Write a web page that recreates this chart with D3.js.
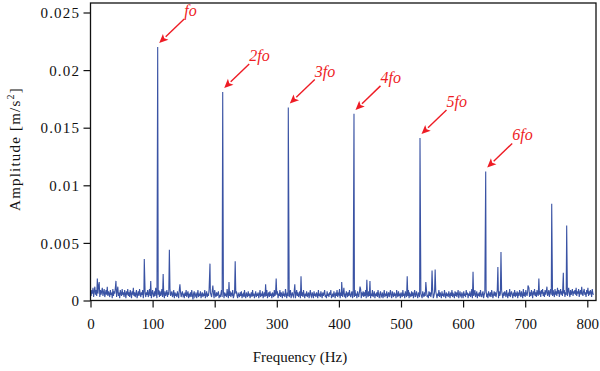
<!DOCTYPE html>
<html>
<head>
<meta charset="utf-8">
<script src="https://cdn.jsdelivr.net/npm/d3@7"></script>
<style>
  html, body { margin: 0; padding: 0; background: #fff; }
  svg { display: block; }
</style>
</head>
<body>
<svg id="chart" width="600" height="371"></svg>
<script>
// ---------------- DATA ----------------
// Noise floor, sampled every 1 Hz from 0 Hz, amplitude in units of 1e-4 m/s^2
const noiseStepHz = 1;
const noiseFloorE4 = [
  7,4,9,6,11,3,8,12,5,9,4,10,6,13,7,3,9,5,8,11,4,7,10,3,6,9,5,12,4,8,
  6,3,9,5,7,2,10,4,8,6,11,5,3,8,12,4,7,2,9,6,4,10,5,7,3,9,6,2,8,5,
  10,4,7,3,9,6,2,8,5,11,4,7,3,6,9,2,5,8,4,10,6,3,7,5,9,2,8,4,6,3,
  7,5,9,3,6,10,4,8,2,6,9,5,3,8,4,11,6,2,7,5,9,3,8,4,6,10,3,7,5,2,
  8,4,6,9,3,7,5,2,10,4,6,8,3,5,9,2,7,4,6,3,8,5,2,9,4,7,3,6,8,4,
  5,2,7,4,9,3,6,8,2,5,4,7,3,9,5,1,6,8,3,4,7,2,5,9,3,6,4,8,2,5,
  7,3,6,4,9,2,5,8,3,6,4,10,2,7,5,3,8,4,6,2,9,5,3,7,4,6,8,2,5,3,
  6,9,3,5,8,2,7,4,6,3,10,5,2,7,4,8,3,6,5,9,2,4,7,3,6,8,4,2,6,5,
  3,7,4,8,2,5,6,3,9,4,2,7,5,3,8,4,6,2,5,7,3,9,4,6,2,5,8,3,6,4,
  7,2,5,9,3,6,4,8,2,5,7,3,6,4,9,2,5,7,3,8,4,6,2,7,5,3,9,4,6,3,
  5,8,2,6,4,9,3,7,5,2,8,4,6,3,10,5,2,7,4,8,3,6,9,2,5,7,4,3,8,5,
  2,6,9,4,7,3,5,8,2,6,4,7,3,9,5,2,6,4,8,3,5,7,2,6,9,4,3,7,5,2,
  8,4,6,3,7,5,2,9,4,6,3,8,5,2,7,4,6,9,3,5,2,8,4,6,3,7,5,9,2,4,
  6,3,8,5,2,7,4,9,3,6,5,10,2,7,4,8,3,6,11,4,5,2,8,6,3,7,4,9,5,3,
  6,8,2,5,7,3,9,4,6,2,8,5,3,7,4,10,2,6,5,8,3,7,4,9,2,6,5,3,8,4,
  7,2,6,4,9,3,5,8,2,6,4,7,3,9,5,2,6,8,3,4,7,2,5,9,3,6,4,8,2,5,
  7,3,6,9,4,2,8,5,3,7,4,6,2,9,5,3,8,4,6,2,7,5,3,9,4,6,2,8,5,3,
  7,4,9,2,6,5,3,8,4,7,2,6,9,3,5,8,4,2,7,5,3,9,6,4,2,8,5,3,7,4,
  6,9,3,5,2,8,4,7,3,6,5,9,2,4,7,3,8,5,2,6,4,9,3,7,5,2,8,4,6,3,
  9,5,2,7,4,6,3,8,5,2,7,4,9,3,6,5,2,8,4,7,3,6,9,2,5,8,4,3,7,5,
  2,8,4,6,3,9,5,7,2,6,4,8,3,5,10,2,7,4,6,9,3,5,8,2,6,4,7,3,9,5,
  3,6,8,2,5,7,4,9,3,6,2,8,5,4,7,3,9,6,2,5,8,4,7,3,6,9,5,2,8,4,
  6,3,9,5,2,7,4,8,6,3,9,5,2,7,4,10,3,6,8,5,2,7,4,9,3,6,5,8,2,7,
  4,9,6,3,8,5,2,10,4,7,3,9,6,4,8,5,11,3,7,4,9,6,2,8,5,10,4,7,3,9,
  6,4,11,5,8,3,9,6,10,4,7,3,9,5,8,12,4,6,9,3,7,10,5,8,4,9,6,3,10,5,
  8,4,11,6,9,3,7,10,5,8,4,12,6,9,3,7,5,10,4,8,11,6,3,9,5,7,10,4,8,6,
  9,5,11,4,8,6,10,3,7,9,5,12,6,4,8,10,5,7,3,9,6,11,4,8,5,9,7,3,10,6,
  5
];

// Harmonic peaks (Hz, m/s^2) and their labels
const harmonicLabels = ["fo", "2fo", "3fo", "4fo", "5fo", "6fo"];
const harmonicFreqs  = [108.2, 212.9, 318.5, 424.3, 530.6, 636.4];
const harmonicAmps   = [0.0220, 0.0181, 0.01675, 0.0162, 0.0141, 0.0112];

// Other spectral peaks (Hz, m/s^2)
const sidePeakFreqs = [11, 14, 41, 86.6, 97, 117, 127, 144, 192.4, 197, 223, 233,
                       282, 299, 329, 339, 404.5, 434, 445, 450, 510, 540, 550, 555,
                       616, 656, 661, 704.5, 722, 742.7, 761.4, 766.8];
const sidePeakAmps  = [0.0019, 0.0016, 0.0017, 0.0036, 0.0017, 0.0023, 0.0044, 0.0014, 0.0032, 0.0013, 0.0016, 0.0034,
                       0.0014, 0.0019, 0.0014, 0.0021, 0.0016, 0.0012, 0.0018, 0.0017, 0.0021, 0.0016, 0.0026, 0.0027,
                       0.0025, 0.0029, 0.0042, 0.0013, 0.0019, 0.0084, 0.0024, 0.0065];

const xTicks = [0, 100, 200, 300, 400, 500, 600, 700, 800];
const yTicks = [0, 0.005, 0.01, 0.015, 0.02, 0.025];
const yTickLabels = ["0", "0.005", "0.01", "0.015", "0.02", "0.025"];

// ---------------- BUILD SERIES ----------------
const spectrum = noiseFloorE4.map((v, i) => ({ f: i * noiseStepHz, a: v / 1e4 }));
function setPeak(f, a) {
  const i = Math.round(f / noiseStepHz);
  if (i >= 0 && i < spectrum.length) spectrum[i] = { f: f, a: a };
}
sidePeakFreqs.forEach((f, i) => setPeak(f, sidePeakAmps[i]));
harmonicFreqs.forEach((f, i) => setPeak(f, harmonicAmps[i]));

// ---------------- LAYOUT ----------------
const svg = d3.select("#chart");
const font = "'Liberation Serif', 'DejaVu Serif', serif";
const x = d3.scaleLinear().domain([0, 800]).range([90.5, 587.3]);
const y = d3.scaleLinear().domain([0, 0.025]).range([300.5, 12.5]);
const plotLeft = x(0), plotRight = 596, plotTop = 3, plotBottom = y(0);

const blue = "#3a53a4";
const red = "#ee1c25";

// spectrum line
svg.append("path")
  .datum(spectrum)
  .attr("fill", "none")
  .attr("stroke", blue)
  .attr("stroke-width", 1.1)
  .attr("stroke-linejoin", "miter")
  .attr("d", d3.line().x(d => x(d.f)).y(d => y(d.a)));

// frame
svg.append("rect")
  .attr("x", plotLeft).attr("y", plotTop)
  .attr("width", plotRight - plotLeft).attr("height", plotBottom - plotTop)
  .attr("fill", "none").attr("stroke", "#111").attr("stroke-width", 1.3);

// axes
const xAxis = d3.axisBottom(x).tickValues(xTicks).tickSize(7).tickSizeOuter(0).tickFormat(d3.format("d"));
const gx = svg.append("g").attr("transform", `translate(0,${plotBottom})`).call(xAxis);
gx.select(".domain").remove();
gx.selectAll(".tick line").attr("stroke", "#111").attr("stroke-width", 1.2);
gx.selectAll(".tick text").attr("font-family", font).attr("font-size", 15)
  .attr("fill", "#111").attr("dy", "0").attr("y", 28);

const yAxis = d3.axisLeft(y).tickValues(yTicks).tickSize(7).tickSizeOuter(0)
  .tickFormat((d, i) => yTickLabels[i]);
const gy = svg.append("g").attr("transform", `translate(${plotLeft},0)`).call(yAxis);
gy.select(".domain").remove();
gy.selectAll(".tick line").attr("stroke", "#111").attr("stroke-width", 1.2);
gy.selectAll(".tick text").attr("font-family", font).attr("font-size", 15)
  .attr("letter-spacing", "1.2px")
  .attr("fill", "#111").attr("x", -10.3).attr("dy", "0.34em");

// axis titles
svg.append("text")
  .attr("x", 300).attr("y", 362)
  .attr("text-anchor", "middle")
  .attr("font-family", font).attr("font-size", 15).attr("fill", "#111")
  .text("Frequency (Hz)");

const yt = svg.append("text")
  .attr("transform", `translate(20,149) rotate(-90)`)
  .attr("text-anchor", "middle")
  .attr("letter-spacing", "1.2px")
  .attr("font-family", font).attr("font-size", 15).attr("fill", "#111");
yt.append("tspan").text("Amplitude [m/s");
yt.append("tspan").attr("font-size", 10).attr("dy", -6).text("2");
yt.append("tspan").attr("dy", 6).text("]");

// annotations
const ann = svg.append("g");
harmonicFreqs.forEach((f, i) => {
  const tipX = x(f) + 1.5, tipY = y(harmonicAmps[i]) - 4;
  const tailX = tipX + 25, tailY = tipY - 24;
  const ang = Math.atan2(tipY - tailY, tipX - tailX);
  const L = 9, W = 4;
  const bx = tipX - L * Math.cos(ang), by = tipY - L * Math.sin(ang);
  ann.append("line")
    .attr("x1", tailX).attr("y1", tailY).attr("x2", bx).attr("y2", by)
    .attr("stroke", red).attr("stroke-width", 1.4);
  const p1 = [bx + W * Math.sin(ang), by - W * Math.cos(ang)];
  const p2 = [bx - W * Math.sin(ang), by + W * Math.cos(ang)];
  ann.append("path")
    .attr("d", `M${tipX},${tipY}L${p1[0]},${p1[1]}L${bx + 2 * Math.cos(ang)},${by + 2 * Math.sin(ang)}L${p2[0]},${p2[1]}Z`)
    .attr("fill", red);
  ann.append("text")
    .attr("x", tailX).attr("y", tailY - 3)
    .attr("font-family", font).attr("font-style", "italic").attr("font-size", 16)
    .attr("fill", red)
    .text(harmonicLabels[i]);
});
</script>
</body>
</html>
